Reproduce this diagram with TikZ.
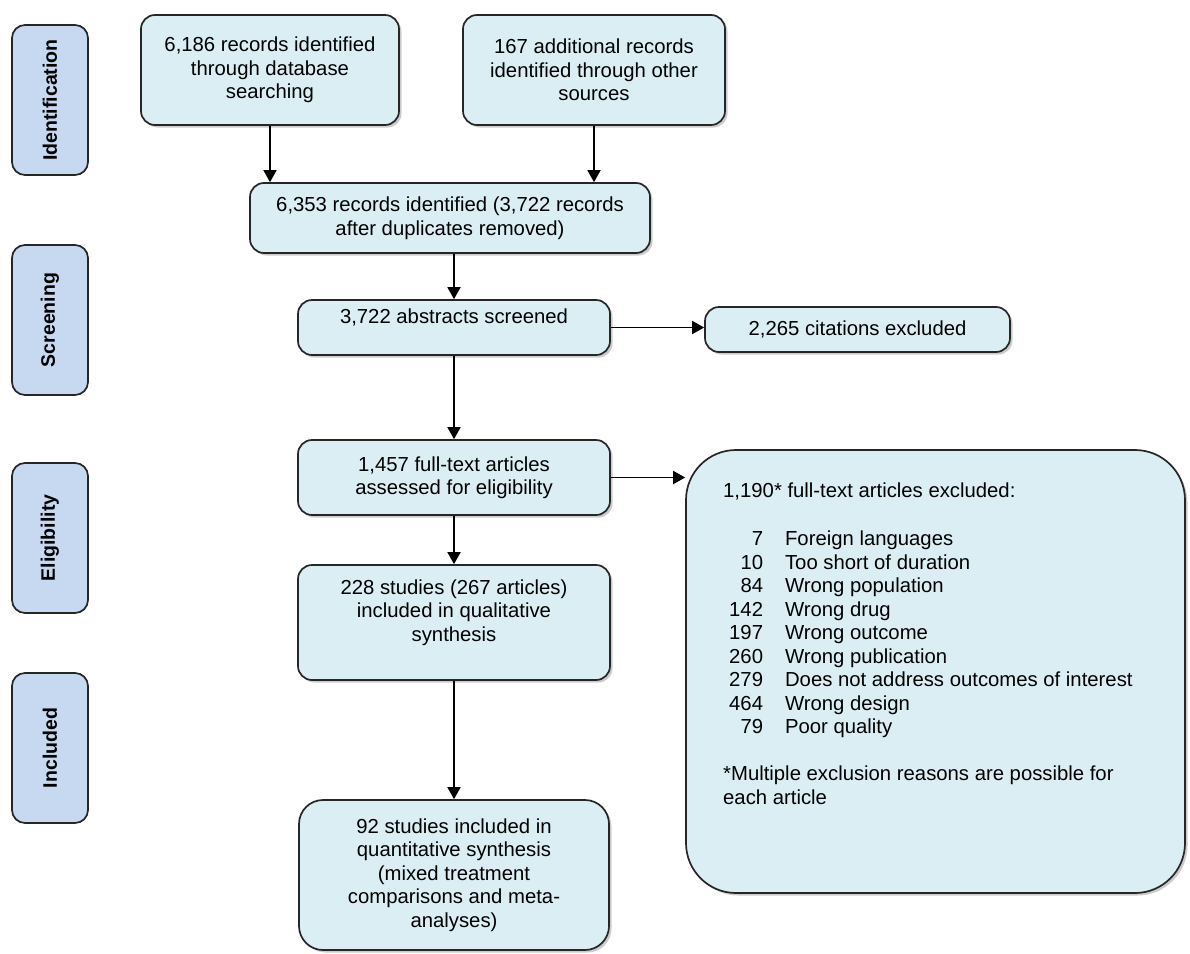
\documentclass[tikz,border=0pt]{standalone}
\usepackage{fontspec}
\setmainfont{Liberation Sans}
\usetikzlibrary{arrows.meta,shadows}
\definecolor{boxfill}{RGB}{219,238,244}
\definecolor{sidefill}{RGB}{198,217,241}
\begin{document}
\begin{tikzpicture}[x=1pt,y=-1pt,
  every node/.style={font=\fontsize{20.3}{23.5}\selectfont},
  flowbox/.style={draw=black!85,line width=1.7pt,fill=boxfill,rounded corners=14pt,align=center,inner sep=4pt,
    drop shadow={shadow xshift=2.5pt,shadow yshift=-2.5pt,opacity=0.4}},
  sidebox/.style={draw=black!85,line width=1.7pt,fill=sidefill,rounded corners=13pt,minimum width=150pt,minimum height=76pt,
    rotate=90,font=\fontsize{19.5}{21}\selectfont\bfseries},
  arr/.style={line width=1.8pt,-{Triangle[width=13pt,length=12pt]}}]
\useasboundingbox (0,0) rectangle (1190,953);
% side labels
\node[sidebox] (sid) at (50,100) {Identification};
\node[sidebox] (ssc) at (50,320) {Screening};
\node[sidebox] (sel) at (50,538) {Eligibility};
\node[sidebox] (sin) at (50,748) {Included};
% main boxes
\node[flowbox,minimum width=258pt,minimum height=110pt] (b1) at (270,70) {6,186 records identified\\through database\\searching};
\node[flowbox,minimum width=262pt,minimum height=110pt] (b2) at (594,70) {167 additional records\\identified through other\\sources};
\node[flowbox,minimum width=400pt,minimum height=70pt] (b3) at (450,218) {6,353 records identified (3,722 records\\after duplicates removed)};
\node[flowbox,minimum width=312pt,minimum height=55pt,text depth=22pt] (b4) at (454,327.5) {3,722 abstracts screened};
\node[flowbox,minimum width=305pt,minimum height=45pt] (b5) at (857.5,329.5) {2,265 citations excluded};
\node[flowbox,minimum width=312pt,minimum height=75pt] (b6) at (454,477.5) {1,457 full-text articles\\assessed for eligibility};
\node[flowbox,minimum width=312pt,minimum height=115pt,text depth=24pt] (b8) at (454,622.5) {228 studies (267 articles)\\included in qualitative\\synthesis};
\node[flowbox,minimum width=310pt,minimum height=150pt,rounded corners=24pt] (b9) at (454,875) {92 studies included in\\quantitative synthesis\\(mixed treatment\\comparisons and meta-\\analyses)};
\node[flowbox,minimum width=499pt,minimum height=443pt,rounded corners=50pt] (b7) at (935.5,671.5) {};
\node[anchor=north west,inner sep=0pt,align=left] (b7t) at (723,483) {%
1,190* full-text articles excluded:\\[28pt]
\begin{tabular}{@{\hspace{6pt}}r@{\hspace{22pt}}l@{}}
7 & Foreign languages\\
10 & Too short of duration\\
84 & Wrong population\\
142 & Wrong drug\\
197 & Wrong outcome\\
260 & Wrong publication\\
279 & Does not address outcomes of interest\\
464 & Wrong design\\
79 & Poor quality
\end{tabular}\\[24pt]
*Multiple exclusion reasons are possible for\\
each article};
% arrows
\draw[arr] (b1.south) -- (b1.south |- b3.north);
\draw[arr] (b2.south) -- (b2.south |- b3.north);
\draw[arr] (b3.south -| b4.north) -- (b4.north);
\draw[arr] (b4.east) -- (b4.east -| b5.west);
\draw[arr] (b4.south) -- (b6.north);
\draw[arr] (b6.east) -- (b6.east -| b7.west);
\draw[arr] (b6.south) -- (b8.north);
\draw[arr] (b8.south) -- (b9.north);
\end{tikzpicture}
\end{document}
